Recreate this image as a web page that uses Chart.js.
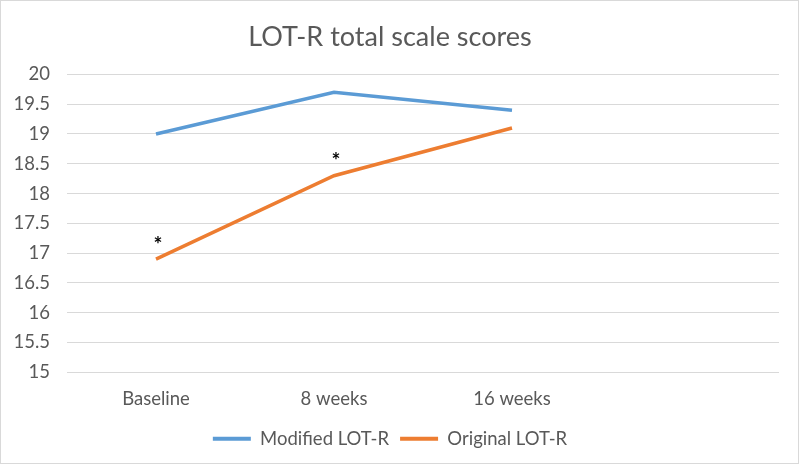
<!DOCTYPE html>
<html>
<head>
<meta charset="utf-8">
<script src="https://cdn.jsdelivr.net/npm/chart.js@4/dist/chart.umd.min.js"></script>
<style>
  body { margin: 0; background: #fff; }
  #wrap { width: 797px; height: 462px; border: 1px solid #d9d9d9; position: relative; }
</style>
</head>
<body>
<div id="wrap"><canvas id="chart"></canvas></div>
<script>
// categories (4th slot left empty, as in the original plot area)
const weeks = ['Baseline', '8 weeks', '16 weeks', ''];
const modifiedScores = [19.0, 19.7, 19.4];
const originalScores = [16.9, 18.3, 19.1];
// significance markers drawn above the original series
const originalStars = [true, true, false];

const textGrey = '#595959';
const labelFont = { family: 'Lato', size: 18.5 };

// draws the "*" above flagged points
const starPlugin = {
    id: 'stars',
    afterDatasetsDraw(chart) {
        const ctx = chart.ctx;
        const meta = chart.getDatasetMeta(1);
        ctx.save();
        ctx.fillStyle = '#000';
        ctx.font = 'bold 21px Lato';
        ctx.textAlign = 'center';
        ctx.textBaseline = 'middle';
        meta.data.forEach((pt, i) => {
            if (originalStars[i]) ctx.fillText('*', pt.x + 2, pt.y - 14);
        });
        ctx.restore();
    }
};

const ctx = document.getElementById('chart').getContext('2d');
new Chart(ctx, {
    type: 'line',
    data: {
        labels: weeks,
        datasets: [{
            label: 'Modified LOT-R',
            data: modifiedScores,
            borderColor: '#5b9bd5',
            backgroundColor: '#5b9bd5',
            borderWidth: 3.5,
            pointRadius: 0,
            tension: 0
        }, {
            label: 'Original LOT-R',
            data: originalScores,
            borderColor: '#ed7d31',
            backgroundColor: '#ed7d31',
            borderWidth: 3.5,
            pointRadius: 0,
            tension: 0
        }]
    },
    options: {
        responsive: true,
        maintainAspectRatio: false,
        animation: false,
        layout: { padding: { top: 12, right: 19, bottom: 5, left: 0 } },
        scales: {
            x: {
                offset: true,
                grid: { display: false },
                border: { display: false },
                ticks: { color: textGrey, font: labelFont, padding: 8 }
            },
            y: {
                min: 15,
                max: 20,
                ticks: {
                    stepSize: 0.5,
                    color: textGrey,
                    font: labelFont,
                    padding: 17,
                    callback: v => String(v)
                },
                grid: { color: '#d9d9d9', lineWidth: 1, drawTicks: false },
                border: { display: false },
                afterFit(scale) { scale.width = 66; }
            }
        },
        plugins: {
            title: {
                display: true,
                text: 'LOT-R total scale scores',
                color: textGrey,
                font: { family: 'Lato', size: 27, weight: 'normal' },
                padding: { top: 8, bottom: 21 }
            },
            legend: {
                position: 'bottom',
                labels: {
                    color: textGrey,
                    font: labelFont,
                    boxWidth: 38,
                    boxHeight: 4,
                    padding: 11,
                    generateLabels(chart) {
                        return Chart.defaults.plugins.legend.labels.generateLabels(chart)
                            .map(item => Object.assign(item, { lineWidth: 0 }));
                    }
                }
            },
            tooltip: { enabled: false }
        }
    },
    plugins: [starPlugin]
});
</script>
</body>
</html>
